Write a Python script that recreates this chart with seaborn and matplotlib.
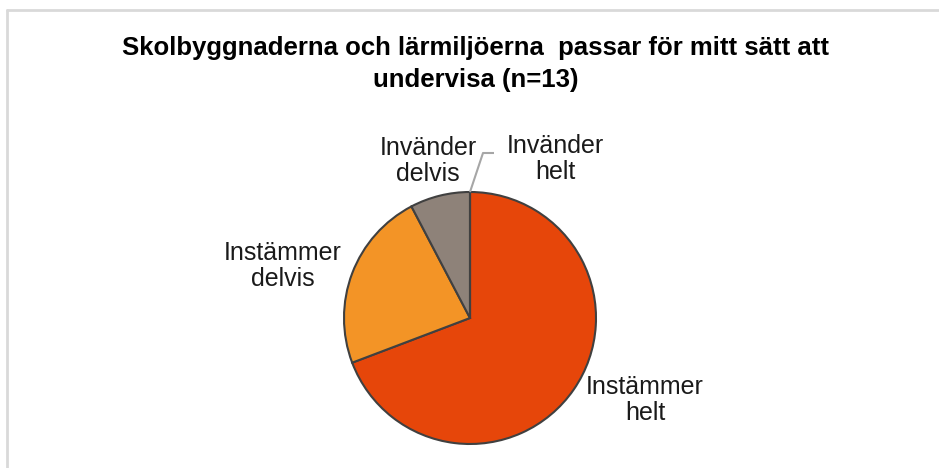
import matplotlib
matplotlib.use("Agg")
import matplotlib.pyplot as plt
import seaborn as sns
import numpy as np
from matplotlib.lines import Line2D

categories = ["Instämmer\nhelt", "Instämmer\ndelvis", "Invänder\ndelvis", "Invänder\nhelt"]
values = [9, 3, 1, 0]
colors = ["#E6460A", "#F39426", "#8E8279", "#7F7F7F"]
title = "Skolbyggnaderna och lärmiljöerna  passar för mitt sätt att\nundervisa (n=13)"

sns.set_theme(style="white")
plt.rcParams["font.family"] = ["Liberation Sans", "DejaVu Sans"]

W, H = 939, 468
fig = plt.figure(figsize=(W / 100, H / 100), dpi=100)
R = 126.0
cx, cy = 470.0, 318.0
L = 1.5
S = 2 * L * R
ax = fig.add_axes([(cx - S / 2) / W, (H - cy - S / 2) / H, S / W, S / H])

wedges, _ = ax.pie(values, colors=colors, startangle=90, counterclock=False,
                   radius=1.0, wedgeprops=dict(edgecolor="#404040", linewidth=1.5))
ax.set_xlim(-L, L)
ax.set_ylim(-L, L)
ax.axis("off")

def d(px, py):
    return ((px - cx) / R, (cy - py) / R)

label_pos = [d(645, 400), d(283, 266), d(428, 161), d(555, 159)]
for lab, (x, y) in zip(categories, label_pos):
    ax.text(x, y, lab, ha="center", va="center", fontsize=18, color="#1a1a1a",
            linespacing=1.1, clip_on=False)

# leader line for zero-sized slice
theta = np.deg2rad(wedges[3].theta1)
p0 = (np.cos(theta), np.sin(theta))
p1 = d(483, 153)
p2 = d(494, 153)
ax.plot([p0[0], p1[0], p2[0]], [p0[1], p1[1], p2[1]], color="#A6A6A6", lw=1.5,
        clip_on=False, solid_capstyle="butt")

fig.text(476 / W, 1 - 64 / H, title, ha="center", va="center", fontsize=18.5,
         fontweight="bold", color="#000000", linespacing=1.38)

fig.lines.append(Line2D([7 / W, 7 / W], [0, 1 - 10 / H], transform=fig.transFigure,
                        color="#D9D9D9", lw=2))
fig.lines.append(Line2D([7 / W, 1], [1 - 10 / H, 1 - 10 / H], transform=fig.transFigure,
                        color="#D9D9D9", lw=2))

fig.savefig("out.png", dpi=100)
